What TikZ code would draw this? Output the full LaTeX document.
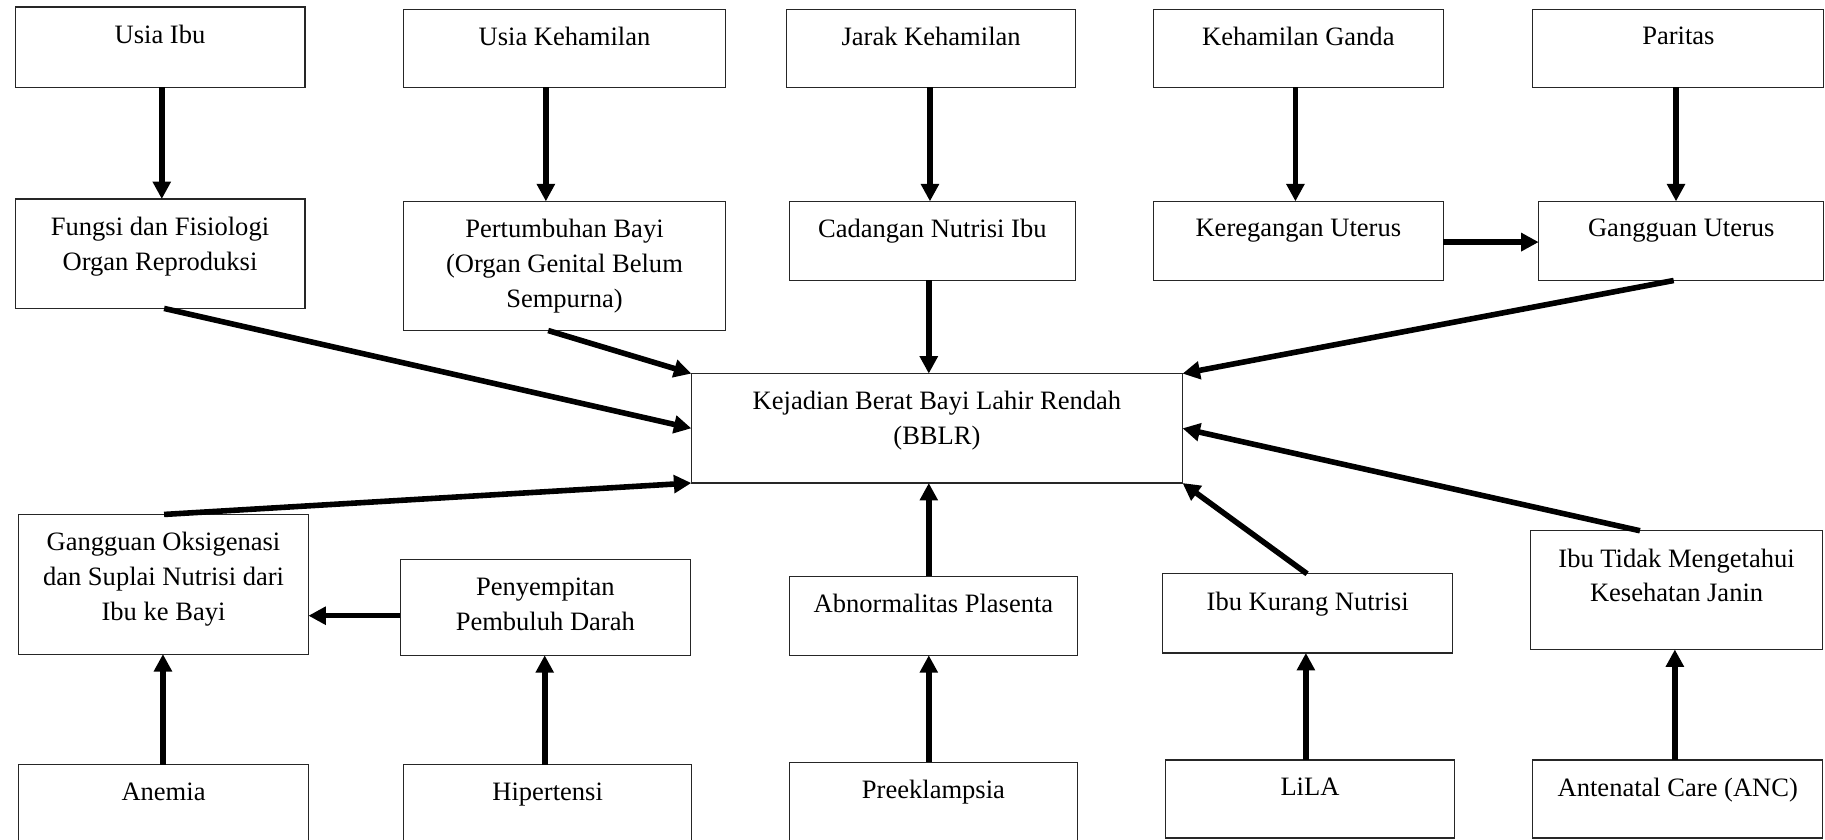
\documentclass[tikz,border=0pt]{standalone}
\usepackage{fontspec}
\setmainfont{Liberation Serif}
\usetikzlibrary{arrows.meta}
\tikzset{
  box/.style={draw=black!85, line width=0.5pt, inner sep=0pt, outer sep=0pt},
  lbl/.style={anchor=north, inner sep=0pt, yshift=-7.5pt, align=center, font=\fontsize{11.4pt}{15pt}\selectfont},
  arr/.style={line width=2.4pt, -{Triangle[length=7.5pt,width=7.5pt]}},
}
\newcommand{\mkbox}[6]{\node[box, minimum width={(#4-#2)*0.5pt}, minimum height={(#5-#3)*0.5pt}, label={[lbl]north:{#6}}] (#1) at ({(#2+#4)/2},{(#3+#5)/2}) {};}
\begin{document}
\begin{tikzpicture}[x=0.5pt, y=-0.5pt]
\useasboundingbox (0,0) rectangle (1568,721);
% row 1
\mkbox{ui}{13}{6}{262}{75}{Usia Ibu}
\mkbox{uk}{347}{8}{623}{75}{Usia Kehamilan}
\mkbox{jk}{676}{8}{924}{75}{Jarak Kehamilan}
\mkbox{kg}{991}{8}{1240}{75}{Kehamilan Ganda}
\mkbox{par}{1317}{8}{1567}{75}{Paritas}
% row 2
\mkbox{fu}{13}{171}{262}{265}{Fungsi dan Fisiologi\\Organ Reproduksi}
\mkbox{pb}{347}{173}{623}{284}{Pertumbuhan Bayi\\(Organ Genital Belum\\Sempurna)}
\mkbox{cn}{678}{173}{924}{241}{Cadangan Nutrisi Ibu}
\mkbox{ku}{991}{173}{1240}{241}{Keregangan Uterus}
\mkbox{gu}{1322}{173}{1567}{241}{Gangguan Uterus}
% centre
\mkbox{bblr}{594}{321}{1016}{415}{Kejadian Berat Bayi Lahir Rendah\\(BBLR)}
% row 3
\mkbox{go}{16}{442}{265}{562}{Gangguan Oksigenasi\\dan Suplai Nutrisi dari\\Ibu ke Bayi}
\mkbox{pp}{344}{481}{593}{563}{Penyempitan\\Pembuluh Darah}
\mkbox{ap}{678}{495}{926}{563}{Abnormalitas Plasenta}
\mkbox{ikn}{999}{493}{1248}{561}{Ibu Kurang Nutrisi}
\mkbox{itm}{1315}{456}{1566}{558}{Ibu Tidak Mengetahui\\Kesehatan Janin}
% row 4
\mkbox{an}{16}{657}{265}{726}{Anemia}
\mkbox{hp}{347}{657}{594}{726}{Hipertensi}
\mkbox{pr}{678}{655}{926}{726}{Preeklampsia}
\mkbox{li}{1001}{653}{1250}{720}{LiLA}
\mkbox{anc}{1317}{653}{1566}{720}{Antenatal Care (ANC)}
% arrows, top
\draw[arr] (ui.south -| 139,0) -- (fu.north -| 139,0);
\draw[arr] (uk.south -| 469,0) -- (pb.north -| 469,0);
\draw[arr] (jk.south -| 799,0) -- (cn.north -| 799,0);
\draw[arr] (kg.south -| 1113,0) -- (ku.north -| 1113,0);
\draw[arr] (par.south -| 1440,0) -- (gu.north -| 1440,0);
\draw[arr] (ku.east |- 0,208) -- (gu.west |- 0,208);
\draw[arr] (fu.south -| 141,0) -- (bblr.west);
\draw[arr] (pb.south -| 471,0) -- (bblr.north west);
\draw[arr] (cn.south -| 798,0) -- (bblr.north -| 798,0);
\draw[arr] (gu.south -| 1438,0) -- (bblr.north east);
% arrows, bottom
\draw[arr] (go.north -| 141,0) -- (bblr.south west);
\draw[arr] (pp.west |- 0,529) -- (go.east |- 0,529);
\draw[arr] (an.north -| 140,0) -- (go.south -| 140,0);
\draw[arr] (hp.north -| 468,0) -- (pp.south -| 468,0);
\draw[arr] (ap.north -| 798,0) -- (bblr.south -| 798,0);
\draw[arr] (pr.north -| 798,0) -- (ap.south -| 798,0);
\draw[arr] (ikn.north -| 1123,0) -- (bblr.south east);
\draw[arr] (li.north -| 1122,0) -- (ikn.south -| 1122,0);
\draw[arr] (itm.north -| 1409,0) -- (bblr.east);
\draw[arr] (anc.north -| 1439,0) -- (itm.south -| 1439,0);
\end{tikzpicture}
\end{document}
